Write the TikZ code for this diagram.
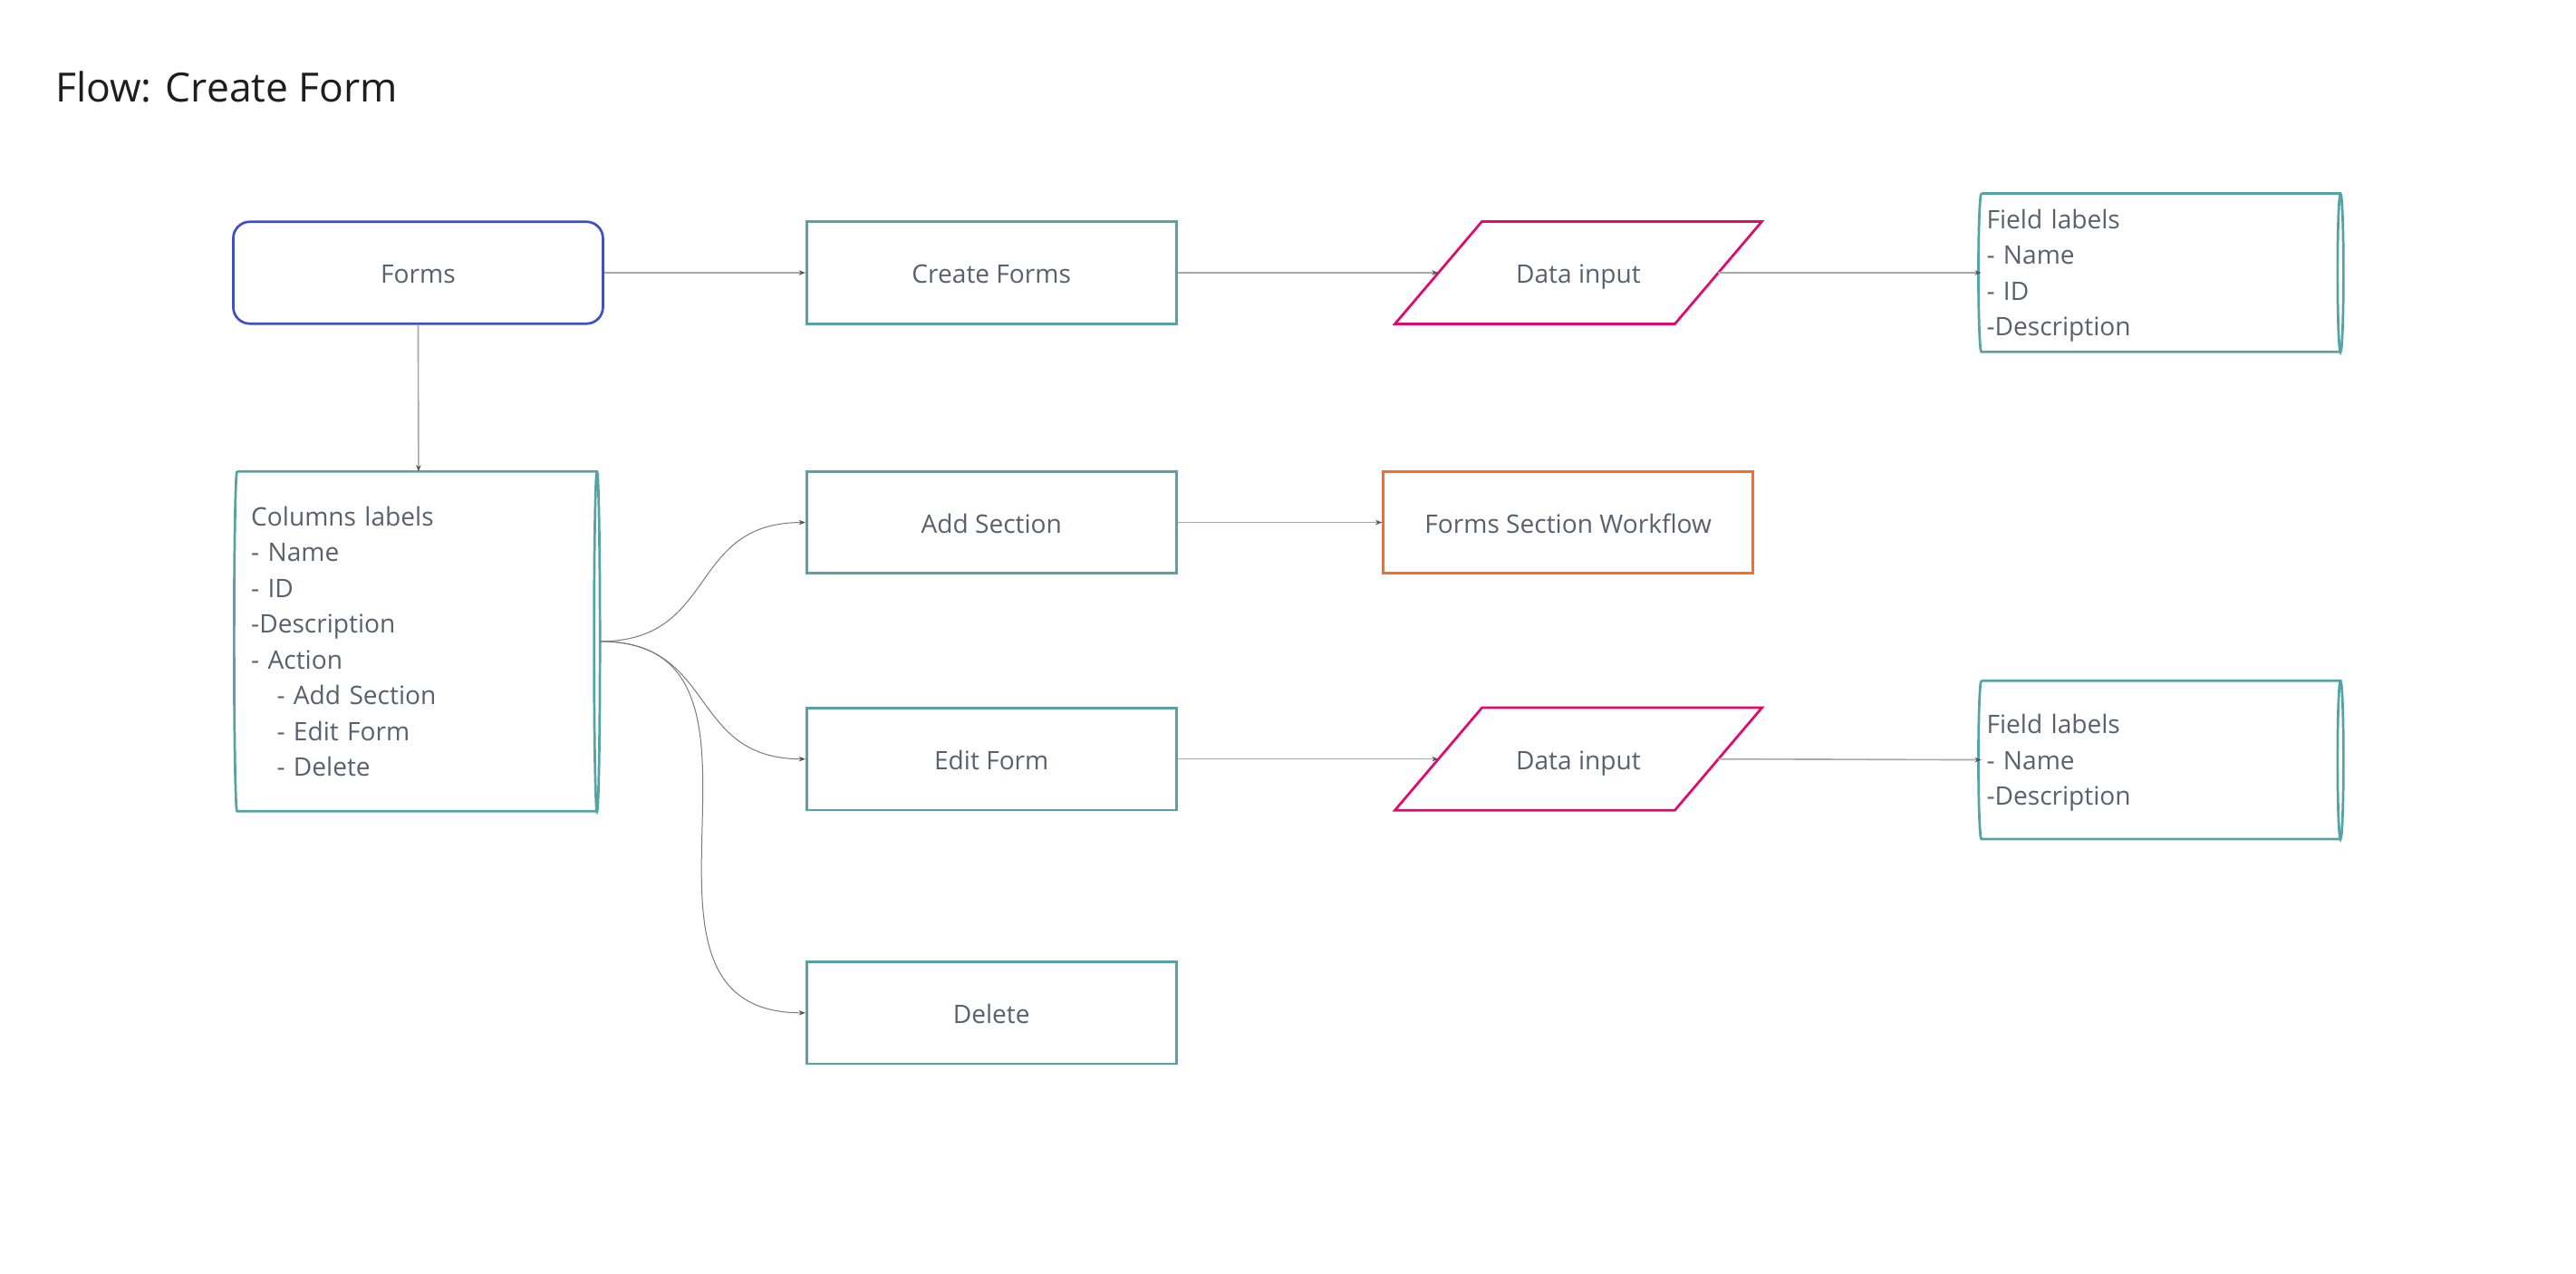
\documentclass[tikz,border=0pt]{standalone}
\usepackage{fontspec}
\setmainfont{Open Sans}
\usetikzlibrary{arrows.meta,calc}
\definecolor{tealc}{HTML}{55A3A3}
\definecolor{bluec}{HTML}{4050C4}
\definecolor{magc}{HTML}{E3086C}
\definecolor{orgc}{HTML}{FF6A24}
\definecolor{txt}{HTML}{5B5F6E}
\definecolor{titlec}{HTML}{1E1E1E}
\definecolor{linec}{HTML}{A8A8A8}
\definecolor{curvec}{HTML}{7A7A7A}
\definecolor{tipc}{HTML}{555555}
\newcommand\storageshape[1]{%
  \draw[stor] let \p1=(#1.north east), \p2=(#1.south east), \p3=(#1.north west), \p4=(#1.south west), \n1={0.5*(\y1-\y2)} in
    (\p3) -- ({\x1-1.8pt},\y1) arc[start angle=90,end angle=-270,x radius=1.8pt,y radius=\n1]
    ({\x2-1.8pt},\y2) -- (\p4) arc[start angle=270,end angle=90,x radius=1.8pt,y radius=\n1];
}
\newcommand\ioshape[1]{%
  \draw[iobox] ($(#1.north west)+(26.5,0)$) -- ($(#1.north east)+(26.5,0)$) -- ($(#1.south east)+(-26.5,0)$) -- ($(#1.south west)+(-26.5,0)$) -- cycle;
}
\tikzset{
  basebox/.style={minimum width=225pt, minimum height=62pt, inner sep=0pt, text height=15pt, text depth=2pt, font=\fontsize{15.5}{21.8}\selectfont, text=txt},
  procbox/.style={basebox, draw=tealc, line width=1.5pt},
  termbox/.style={basebox, draw=bluec, line width=1.5pt, rounded corners=10pt},
  extbox/.style={basebox, draw=orgc, line width=1.5pt},
  iobox/.style={draw=magc, line width=1.5pt, line join=miter},
  ionode/.style={basebox, minimum width=170pt},
  stornode/.style={inner xsep=3pt, inner ysep=0pt, align=left, font=\fontsize{15.5}{21.8}\selectfont, text=txt},
  stor/.style={draw=tealc, line width=1.5pt},
  conn/.style={draw=linec, line width=0.9pt, -{Stealth[length=4pt,width=3pt,color=tipc]}},
  curveconn/.style={draw=curvec, line width=0.55pt, -{Stealth[length=4pt,width=3pt,color=tipc]}},
}
\begin{document}
\begin{tikzpicture}[x=1pt,y=-1pt]
\useasboundingbox[fill=white] (0,0) rectangle (1568,775);
\node[anchor=base west, inner sep=0pt, font=\fontsize{24.5}{29}\selectfont, text=titlec] (title) at (33.5,61.8) {Flow: Create Form};

\node[termbox] (forms) at (254.5,166) {Forms};
\node[procbox] (create) at (603.5,166) {Create Forms};
\node[ionode] (di1) at (960.75,166) {Data input};
\ioshape{di1}
\node[stornode, text width=214pt, minimum height=96pt] (fl1) at (1316.25,166) {Field labels\\- Name\\- ID\\-Descri\smash{p}tion};
\storageshape{fl1}

\node[stornode, inner xsep=8.4pt, text width=203.7pt, minimum height=206.4pt] (cols) at (254.75,390.4) {Columns labels\\- Name\\- ID\\-Description\\- Action\\\hspace*{15.6pt}- Add Section\\\hspace*{15.6pt}- Edit Form\\\hspace*{15.6pt}- Delete};
\storageshape{cols}

\node[procbox] (addsec) at (603.5,318) {Add Section};
\node[extbox] (fsw) at (954.5,318) {Forms Section Workflow};
\node[procbox] (edit) at (603.5,462) {Edit Form};
\node[ionode] (di2) at (960.75,462) {Data input};
\ioshape{di2}
\node[stornode, text width=214pt, minimum height=96pt] (fl2) at (1316.25,462.5) {Field labels\\- Name\\-Descri\smash{p}tion};
\storageshape{fl2}
\node[procbox] (del) at (603.5,616.5) {Delete};

\draw[conn] (forms.east) -- (create.west);
\draw[conn] (forms.south) -- (cols.north);
\draw[conn] (create.east) -- (di1.west);
\draw[conn] (di1.east) -- (fl1.west);
\draw[conn] (addsec.east) -- (fsw.west);
\draw[conn] (edit.east) -- (di2.west);
\draw[conn] (di2.east) -- (fl2.west);

\draw[curveconn] (cols.east) to[out=0,in=180,looseness=1.28] (addsec.west);
\draw[curveconn] (cols.east) to[out=0,in=180,looseness=1.28] (edit.west);
\draw[curveconn] (cols.east) to[out=0,in=180,looseness=1.28] (del.west);
\end{tikzpicture}
\end{document}
